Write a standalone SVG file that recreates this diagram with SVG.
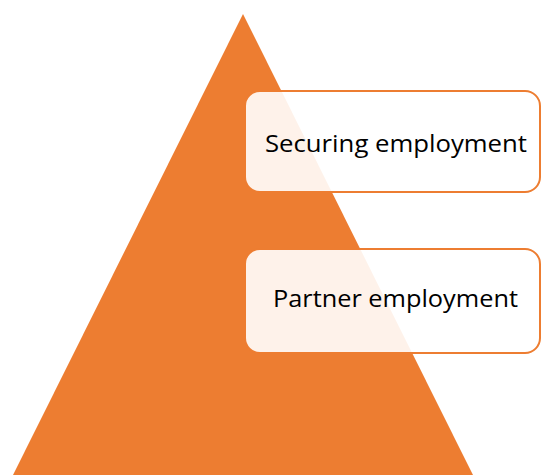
<svg xmlns="http://www.w3.org/2000/svg" width="541" height="475" viewBox="0 0 541 475">
<style>
.tri{fill:#ED7D31}
.box{fill:#FFFFFF;fill-opacity:0.9;stroke:#ED7D31;stroke-width:2}
.lbl{font-family:"Open Sans","Liberation Sans",sans-serif;font-size:23px;fill:#000000;text-anchor:middle}
</style>
<g id="pyramid"><polygon class="tri" points="243,14 13,475 473,475"/></g>
<g id="connectors"></g>
<g id="node-securing">
<rect class="box" x="245" y="91" width="295" height="101" rx="15" ry="15"/>
<text class="lbl" x="396" y="152" textLength="262" lengthAdjust="spacingAndGlyphs">Securing employment</text>
</g>
<g id="node-partner">
<rect class="box" x="245" y="249" width="295" height="104" rx="15" ry="15"/>
<text class="lbl" x="395.5" y="307" textLength="245" lengthAdjust="spacingAndGlyphs">Partner employment</text>
</g>
</svg>
